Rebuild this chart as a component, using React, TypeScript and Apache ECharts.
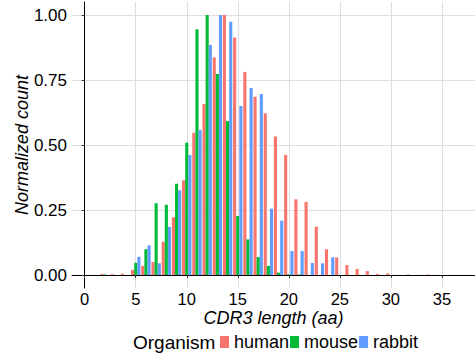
import React, { useEffect, useRef } from "react";
import * as echarts from "echarts";

const lengths = [1, 2, 3, 4, 5, 6, 7, 8, 9, 10, 11, 12, 13, 14, 15, 16, 17, 18, 19, 20, 21, 22, 23, 24, 25, 26, 27, 28, 29, 30, 31, 32, 33, 34];
const human = [0, 0.004, 0.003, 0.005, 0.019, 0.035, 0.05, 0.128, 0.222, 0.364, 0.547, 0.658, 0.837, 1.0, 0.913, 0.781, 0.686, 0.622, 0.533, 0.462, 0.291, 0.281, 0.186, 0.099, 0.067, 0.038, 0.023, 0.015, 0.004, 0.006, 0, 0.002, 0, 0.002];
const mouse = [0, 0.002, 0, 0, 0.047, 0.099, 0.276, 0.27, 0.351, 0.509, 0.945, 1.0, 0.773, 0.592, 0.227, 0.137, 0.069, 0.035, 0.009, 0.003, 0.002, 0, 0, 0, 0, 0, 0, 0, 0, 0, 0, 0, 0, 0];
const rabbit = [0, 0, 0, 0, 0.07, 0.114, 0.045, 0.185, 0.326, 0.462, 0.558, 0.885, 1.0, 0.974, 0.65, 0.719, 0.696, 0.255, 0.209, 0.092, 0.092, 0.046, 0.045, 0.068, 0, 0, 0, 0, 0, 0, 0, 0, 0, 0];
const organisms = ["human", "mouse", "rabbit"];
const organismColors = ["#F8766D", "#00BA38", "#619CFF"];
const xTicks = [0, 5, 10, 15, 20, 25, 30, 35];
const yTicks = [0, 0.25, 0.5, 0.75, 1];

const FONT = "'Liberation Sans', Arial, sans-serif";

function pairs(values: number[]) {
  const out: [number, number][] = [];
  lengths.forEach((x, i) => {
    if (values[i] > 0) out.push([x, values[i]]);
  });
  return out;
}

export default function App() {
  const ref = useRef<HTMLDivElement>(null);
  useEffect(() => {
    if (!ref.current) return;
    const chart = echarts.init(ref.current, null, { renderer: "svg" });
    const seriesValues = [human, mouse, rabbit];
    chart.setOption({
      animation: false,
      backgroundColor: "#ffffff",
      textStyle: { fontFamily: FONT },
      grid: { left: 72, top: 2, width: 412, height: 286, containLabel: false },
      xAxis: {
        type: "value",
        min: -1.245,
        max: 38.245,
        name: "CDR3 length (aa)",
        nameLocation: "middle",
        nameGap: 22,
        nameMoveOverlap: false,
        nameTextStyle: { fontFamily: FONT, fontSize: 18, lineHeight: 16, fontStyle: "italic", color: "#000" },
        axisLine: { show: true, lineStyle: { color: "#000", width: 1 } },
        axisTick: { show: true, length: 3, lineStyle: { color: "#333" }, customValues: xTicks },
        axisLabel: { customValues: xTicks, fontSize: 16.5, lineHeight: 15, color: "#000", margin: 3, fontFamily: FONT },
        splitLine: { show: true, lineStyle: { color: "#DEDEDE", width: 1 } },
      },
      yAxis: {
        type: "value",
        min: -0.05,
        max: 1.05,
        name: "Normalized count",
        nameLocation: "middle",
        nameGap: 41,
        nameMoveOverlap: false,
        nameTextStyle: { fontFamily: FONT, fontSize: 18, fontStyle: "italic", color: "#000" },
        axisLine: { show: true, lineStyle: { color: "#000", width: 1 } },
        axisTick: { show: true, length: 3, lineStyle: { color: "#333" }, customValues: yTicks },
        axisLabel: {
          customValues: yTicks,
          fontSize: 17,
          color: "#000",
          margin: 5,
          fontFamily: FONT,
          formatter: (v: number) => v.toFixed(2),
        },
        splitLine: { show: true, lineStyle: { color: "#DEDEDE", width: 1 } },
      },
      legend: {
        data: organisms,
        left: 220,
        top: 333,
        icon: "rect",
        itemWidth: 9,
        itemHeight: 12,
        itemGap: 1,
        padding: 0,
        textStyle: { fontFamily: FONT, fontSize: 18, color: "#000" },
      },
      graphic: [
        {
          type: "text",
          left: 133,
          top: 333,
          style: { text: "Organism", font: `19px ${FONT}`, fill: "#000" },
        },
      ],
      series: organisms.map((name, i) => ({
        name,
        type: "bar",
        data: pairs(seriesValues[i]),
        barWidth: 3.13,
        barGap: "0%",
        itemStyle: { color: organismColors[i] },
      })),
    });
    return () => chart.dispose();
  }, []);
  return (
    <div
      ref={ref}
      style={{ position: "absolute", left: 0, top: 0, width: 475, height: 353 }}
    />
  );
}
